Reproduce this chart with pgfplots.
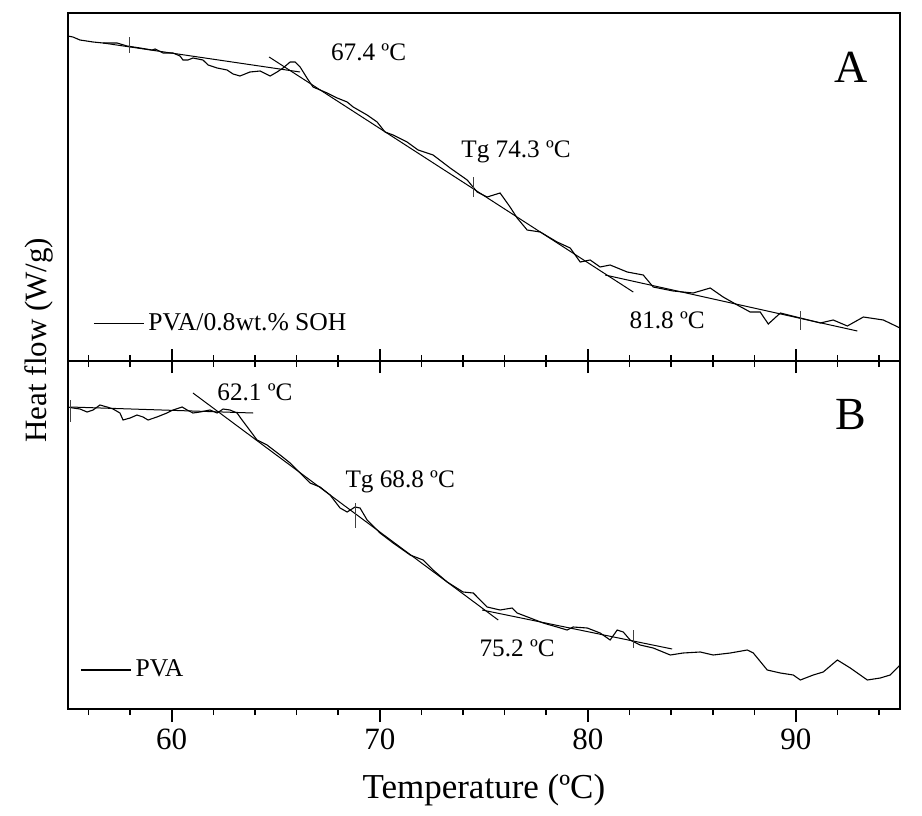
\documentclass[border=0pt]{standalone}
\usepackage{fontspec}
\setmainfont{Liberation Serif}
\usepackage{pgfplots}
\pgfplotsset{compat=1.18}
\tikzset{lab/.style={font=\fontsize{12.6}{12.6}\selectfont},
  big/.style={font=\fontsize{23}{23}\selectfont}}
\begin{document}
\begin{tikzpicture}
\pgfplotsset{
  dsc/.style={scale only axis, width=416.15pt, xmin=55, xmax=95,
    xtick={60,70,80,90},
    minor xtick={56,58,62,64,66,68,72,74,76,78,82,84,86,88,92,94},
    xtick pos=lower, ytick=\empty,
    axis line style={line width=1.1pt},
    every major tick/.style={black, line width=1pt},
    every minor tick/.style={black, line width=0.8pt},
    legend style={draw=none, fill=none, inner sep=0pt, font=\fontsize{12.8}{12.8}\selectfont, legend cell align=left},
    legend image code/.code={\draw[#1] (0pt,0pt) -- (25pt,0pt);},
    /pgf/number format/assume math mode=true},
  crv/.style={black, line width=0.55pt, no marks},
  tan/.style={black, line width=0.5pt, no marks, forget plot},
  tk/.style={black!75, line width=0.5pt, no marks, forget plot}
}
% ---------------- Panel A ----------------
\begin{axis}[dsc, name=top, height=174pt, ymin=-361, ymax=-13,
  xticklabels={}, tick align=center, major tick length=12pt, minor tick length=6pt,
  ylabel={Heat flow (W/g)},
  ylabel style={at={(axis description cs:-0.034,0.06)}, anchor=center, font=\fontsize{15.5}{15.5}\selectfont},
  legend style={at={(0.0304,0.109)}, anchor=west}]
\addplot[crv] coordinates {
(55.00,-36) (55.25,-37) (55.59,-40) (56.22,-42) (56.70,-43) (57.37,-43) (57.85,-46)
(58.48,-48) (59.05,-50) (59.20,-49) (59.58,-53) (60.06,-53) (60.40,-56) (60.54,-60)
(60.78,-60) (61.02,-58) (61.50,-60) (61.75,-65) (62.18,-68) (62.66,-70) (62.95,-74)
(63.28,-76) (63.76,-72) (64.25,-71) (64.73,-76) (65.06,-72) (65.35,-68) (65.69,-62)
(65.93,-62) (66.17,-67) (66.50,-78) (66.79,-87) (67.47,-93) (67.95,-98) (68.43,-102)
(68.72,-107) (69.39,-115) (69.87,-122) (70.25,-132) (70.64,-135) (71.31,-142)
(71.84,-150) (72.56,-155) (73.38,-168) (74.20,-180) (74.68,-192) (75.16,-197)
(75.78,-193) (76.26,-207) (76.60,-218) (77.08,-230) (77.71,-232) (78.52,-242)
(79.15,-248) (79.63,-262) (80.11,-260) (80.59,-267) (81.07,-265) (81.89,-272)
(82.66,-275) (83.14,-287) (84.10,-291) (85.06,-293) (85.88,-288) (86.50,-297)
(87.18,-305) (87.80,-312) (88.28,-312) (88.67,-324) (89.25,-313) (90.21,-318)
(91.17,-323) (91.79,-320) (92.47,-326) (93.24,-317) (94.20,-320) (95.00,-328)};
\addlegendentry{PVA/0.8wt.\% SOH}
\addplot[tan] coordinates {(56.70,-43) (66.17,-72)};
\addplot[tan] coordinates {(64.68,-57) (82.18,-292)};
\addplot[tan] coordinates {(80.83,-275) (92.95,-331)};
\addplot[tk] coordinates {(57.95,-37) (57.95,-53)};
\addplot[tk] coordinates {(74.49,-177) (74.49,-197)};
\addplot[tk] coordinates {(90.21,-311) (90.21,-330)};
\node[lab] at (axis cs:69.46,-52) {67.4 ºC};
\node[lab] at (axis cs:76.55,-152) {Tg 74.3 ºC};
\node[lab] at (axis cs:83.81,-320) {81.8 ºC};
\node[big] at (axis cs:92.66,-67) {A};
\end{axis}
% ---------------- Panel B ----------------
\begin{axis}[dsc, at={(top.south west)}, anchor=north west, height=174pt,
  ymin=-709, ymax=-361,
  tick align=outside, major tick length=6.5pt, minor tick length=3pt,
  xticklabel style={font=\fontsize{15.5}{15.5}\selectfont},
  xlabel={Temperature (ºC)},
  xlabel style={at={(axis description cs:0.5,-0.233)}, anchor=center, font=\fontsize{17.5}{17.5}\selectfont},
  legend style={at={(0.0148,0.112)}, anchor=west}]
\addplot[crv] coordinates {
(55.01,-407) (55.25,-408) (55.59,-409) (55.93,-412) (56.22,-410) (56.55,-405)
(56.89,-407) (57.18,-409) (57.51,-413) (57.66,-420) (58.00,-418) (58.33,-415)
(58.62,-417) (58.86,-420) (59.29,-417) (59.77,-413) (60.06,-410) (60.50,-407)
(60.74,-410) (61.02,-413) (61.36,-412) (61.84,-410) (62.18,-413) (62.47,-409)
(62.80,-410) (63.14,-413) (63.38,-420) (63.67,-428) (64.10,-440) (64.58,-445)
(65.21,-455) (65.69,-463) (66.17,-473) (66.65,-483) (67.13,-487) (67.61,-495)
(68.09,-508) (68.43,-512) (68.81,-507) (69.05,-508) (69.39,-520) (70.01,-533)
(70.64,-543) (71.46,-555) (72.08,-560) (72.56,-570) (73.24,-582) (74.00,-592)
(74.49,-593) (75.16,-607) (75.78,-610) (76.36,-608) (76.60,-613) (77.23,-618)
(77.85,-623) (78.52,-627) (79.00,-630) (79.29,-627) (79.97,-628) (80.59,-633)
(81.07,-640) (81.41,-630) (81.70,-632) (82.03,-640) (82.51,-645) (83.14,-648)
(83.96,-655) (84.58,-653) (85.40,-652) (86.02,-655) (86.84,-653) (87.66,-650)
(87.95,-653) (88.62,-670) (89.25,-673) (89.87,-675) (90.21,-680) (90.83,-675)
(91.31,-672) (91.99,-660) (92.61,-668) (93.43,-680) (94.05,-678) (94.53,-675)
(95.00,-665)};
\addlegendentry{PVA}
\addplot[tan] coordinates {(55.12,-407) (63.91,-413)};
\addplot[tan] coordinates {(61.02,-393) (75.69,-620)};
\addplot[tan] coordinates {(74.92,-610) (84.05,-649)};
\addplot[tk] coordinates {(55.12,-400) (55.12,-422)};
\addplot[tk] coordinates {(68.81,-503) (68.81,-528)};
\addplot[tk] coordinates {(82.18,-630) (82.18,-648)};
\node[lab] at (axis cs:64.00,-392) {62.1 ºC};
\node[lab] at (axis cs:70.98,-482) {Tg 68.8 ºC};
\node[lab] at (axis cs:76.60,-648) {75.2 ºC};
\node[big] at (axis cs:92.66,-415) {B};
\end{axis}
\path (top.north west) ++(-33.85pt,6.5pt) rectangle ++(461pt,-407.5pt);
\end{tikzpicture}
\end{document}
